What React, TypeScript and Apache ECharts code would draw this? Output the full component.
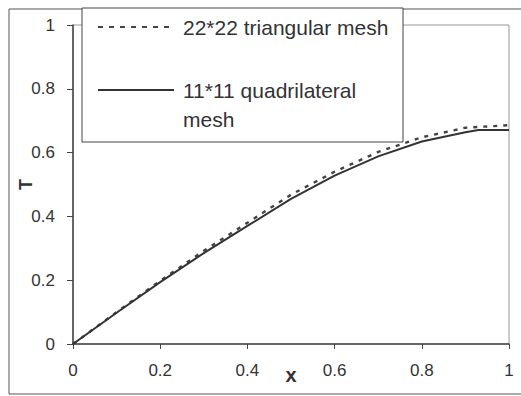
import React, { useEffect, useRef } from "react";
import * as echarts from "echarts";

const xTicks = [0, 0.2, 0.4, 0.6, 0.8, 1];
const yTicks = [0, 0.2, 0.4, 0.6, 0.8, 1];

const quadX = [0, 0.1, 0.2, 0.3, 0.4, 0.5, 0.6, 0.7, 0.8, 0.9, 0.93, 1.0];
const quadT = [0, 0.098, 0.194, 0.285, 0.37, 0.455, 0.528, 0.588, 0.635, 0.664, 0.671, 0.671];

const triX = [0, 0.1, 0.2, 0.3, 0.4, 0.5, 0.6, 0.7, 0.8, 0.9, 1.0];
const triT = [0, 0.1, 0.198, 0.292, 0.38, 0.468, 0.54, 0.602, 0.648, 0.678, 0.686];

const triName = "22*22 triangular mesh";
const quadName1 = "11*11 quadrilateral";
const quadName2 = "mesh";

export default function App() {
  const ref = useRef<HTMLDivElement>(null);
  useEffect(() => {
    if (!ref.current) return;
    const chart = echarts.init(ref.current, null, { renderer: "svg" });
    const font = "'Liberation Sans', Arial, sans-serif";
    chart.setOption({
      animation: false,
      backgroundColor: "#fff",
      grid: {
        left: 73,
        right: 12,
        top: 25,
        bottom: 52,
        containLabel: false,
        outerBoundsMode: "none",
        show: true,
        borderColor: "#999",
        borderWidth: 1,
      },
      xAxis: {
        type: "value",
        min: 0,
        max: 1,
        interval: 0.2,
        name: "x",
        nameLocation: "middle",
        nameGap: 21,
        nameMoveOverlap: false,
        nameTextStyle: { fontFamily: font, fontWeight: "bold", fontSize: 20, color: "#333" },
        axisLine: { show: true, lineStyle: { color: "#444", width: 1.5 } },
        axisTick: { show: true, length: 5, lineStyle: { color: "#444" } },
        axisLabel: {
          margin: 18,
          fontFamily: font,
          fontSize: 17,
          color: "#333",
          formatter: (v: number) => (xTicks.includes(Math.round(v * 10) / 10) ? String(Math.round(v * 10) / 10) : ""),
        },
        splitLine: { show: false },
      },
      yAxis: {
        type: "value",
        min: 0,
        max: 1,
        interval: 0.2,
        name: "T",
        nameLocation: "middle",
        nameGap: 38,
        nameMoveOverlap: false,
        nameTextStyle: { fontFamily: font, fontWeight: "bold", fontSize: 18, color: "#333" },
        axisLine: { show: true, lineStyle: { color: "#444", width: 1.5 } },
        axisTick: { show: true, length: 6, lineStyle: { color: "#444" } },
        axisLabel: {
          margin: 18,
          fontFamily: font,
          fontSize: 17,
          color: "#333",
          formatter: (v: number) => (yTicks.includes(Math.round(v * 10) / 10) ? String(Math.round(v * 10) / 10) : ""),
        },
        splitLine: { show: false },
      },
      series: [
        {
          name: triName,
          type: "line",
          data: triX.map((x, i) => [x, triT[i]]),
          showSymbol: false,
          lineStyle: { color: "#444", width: 2.4, type: [4, 6] },
        },
        {
          name: quadName1,
          type: "line",
          data: quadX.map((x, i) => [x, quadT[i]]),
          showSymbol: false,
          lineStyle: { color: "#333", width: 2 },
        },
      ],
      graphic: [
        {
          type: "rect",
          z: 100,
          shape: { x: 9, y: 9, width: 530, height: 385 },
          style: { fill: "none", stroke: "#555", lineWidth: 1 },
        },
        {
          type: "rect",
          z: 100,
          shape: { x: 82, y: 8, width: 321, height: 134 },
          style: { fill: "#fff", stroke: "#444", lineWidth: 1 },
        },
        {
          type: "line",
          z: 101,
          shape: { x1: 98, y1: 27, x2: 174, y2: 27 },
          style: { stroke: "#444", lineWidth: 2.2, lineDash: [5, 6] },
        },
        {
          type: "line",
          z: 101,
          shape: { x1: 98, y1: 90, x2: 174, y2: 90 },
          style: { stroke: "#333", lineWidth: 2 },
        },
        {
          type: "text",
          z: 101,
          x: 183,
          y: 27,
          style: { text: triName, fontFamily: font, fontSize: 21, fill: "#333", verticalAlign: "middle" },
        },
        {
          type: "text",
          z: 101,
          x: 183,
          y: 90,
          style: { text: quadName1, fontFamily: font, fontSize: 21, fill: "#333", verticalAlign: "middle" },
        },
        {
          type: "text",
          z: 101,
          x: 183,
          y: 119,
          style: { text: quadName2, fontFamily: font, fontSize: 21, fill: "#333", verticalAlign: "middle" },
        },
      ],
    });
    return () => chart.dispose();
  }, []);
  return (
    <div
      ref={ref}
      style={{ position: "fixed", left: 0, top: 0, width: 521, height: 396 }}
    />
  );
}
